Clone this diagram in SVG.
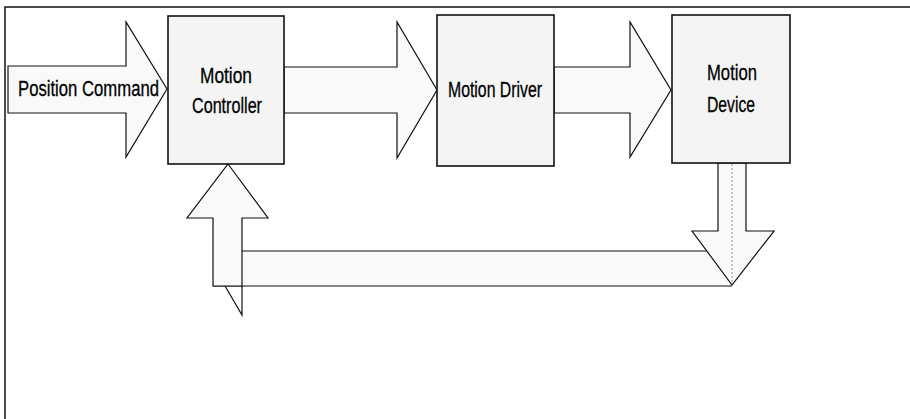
<svg xmlns="http://www.w3.org/2000/svg" width="910" height="419" viewBox="0 0 910 419">
<style>
.box{fill:#f4f4f4;stroke:#111;stroke-width:1.6}
.arr{fill:#f9f9f9;stroke:#111;stroke-width:1.2;stroke-linejoin:miter}
.ln{fill:none;stroke:#111;stroke-width:1.2}
.frame{fill:none;stroke:#111;stroke-width:1.5}
.t{font-family:"Liberation Sans",Arial,sans-serif;font-size:22px;fill:#000;stroke:#000;stroke-width:0.3}
</style>
<rect width="910" height="419" fill="#fff"/>
<g id="frame">
<polyline class="frame" points="5,419 5,7 910,7"/>
</g>
<g id="connectors">
<polygon id="arrow-position-command" class="arr" points="8,66 126,66 126,22 167,89 126,157 126,113 8,113"/>
<polygon id="arrow-controller-driver" class="arr" points="284,67 397,67 397,22 437,90 397,158 397,113 284,113"/>
<polygon id="arrow-driver-device" class="arr" points="554,67 630,67 630,22 671,90 630,157 630,113 554,113"/>
<polygon id="feedback-band" points="242,251 707,251 732,285 732,286 213,286 242,286" fill="#f9f9f9" stroke="none"/>
<line class="ln" x1="242" y1="251" x2="707" y2="251"/>
<line class="ln" x1="213" y1="286" x2="732" y2="286"/>
<polygon id="arrow-up-to-controller" class="arr" points="228,164 268,218 242,218 242,286 213,286 213,218 187,218"/>
<polyline class="ln" points="225,286 242,315 242,286"/>
<polygon id="arrow-down-from-device" class="arr" points="718,163 746,163 746,231 774,231 732,285 692,231 718,231"/>
<line x1="732" y1="164" x2="732" y2="284" stroke="#777" stroke-width="0.8" stroke-dasharray="2,2"/>
</g>
<g id="position-command">
<text class="t" x="18" y="96" textLength="141" lengthAdjust="spacingAndGlyphs">Position Command</text>
</g>
<g id="motion-controller">
<rect class="box" x="168" y="16" width="116" height="148"/>
<text class="t" x="200" y="83" textLength="52" lengthAdjust="spacingAndGlyphs">Motion</text>
<text class="t" x="192" y="113" textLength="70" lengthAdjust="spacingAndGlyphs">Controller</text>
</g>
<g id="motion-driver">
<rect class="box" x="437" y="15" width="117" height="151"/>
<text class="t" x="448" y="97" textLength="94" lengthAdjust="spacingAndGlyphs">Motion Driver</text>
</g>
<g id="motion-device">
<rect class="box" x="672" y="15" width="118" height="148"/>
<text class="t" x="707" y="80" textLength="50" lengthAdjust="spacingAndGlyphs">Motion</text>
<text class="t" x="707" y="112" textLength="48" lengthAdjust="spacingAndGlyphs">Device</text>
</g>
</svg>
